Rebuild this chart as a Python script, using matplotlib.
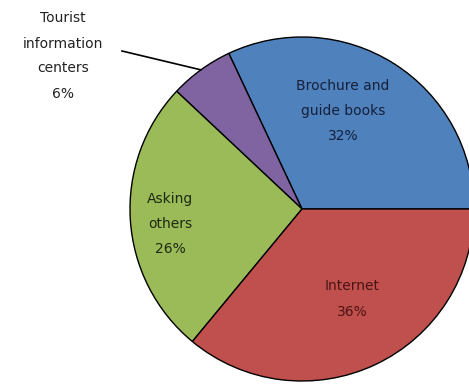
import numpy as np
import matplotlib.pyplot as plt

# data
labels = ['Brochure and\nguide books', 'Tourist\ninformation\ncenters', 'Asking\nothers', 'Internet']
shares = [32, 6, 26, 36]
colors = ['#4F81BD', '#8064A2', '#9BBB59', '#C0504D']

# label placement (pixel coords of a 469x387 canvas)
text_pos = [(343, 276), (63, 331), (170, 163), (352, 88)]
text_col = ['#15203a', '#222222', '#1c2a10', '#4a1414']

fig = plt.figure(figsize=(4.69, 3.87), dpi=100)
ax = fig.add_axes([0, 0, 1, 1])
ax.axis('off')

wedges, _ = ax.pie(shares, colors=colors, startangle=0, counterclock=True,
                   center=(302, 178), radius=172,
                   wedgeprops=dict(edgecolor='black', linewidth=1.0))
ax.set_xlim(0, 469)
ax.set_ylim(0, 387)
ax.set_aspect('equal')

for lab, val, (x, y), c in zip(labels, shares, text_pos, text_col):
    ax.text(x, y, f'{lab}\n{val}%', ha='center', va='center', fontsize=10,
            color=c, linespacing=2.0)

# leader line for the small slice
w = wedges[1]
mid = np.deg2rad((w.theta1 + w.theta2) / 2)
ex = 302 + 172 * np.cos(mid)
ey = 178 + 172 * np.sin(mid)
ax.plot([122, ex], [336, ey], color='black', linewidth=1.2)

fig.savefig('out.png', dpi=100)
